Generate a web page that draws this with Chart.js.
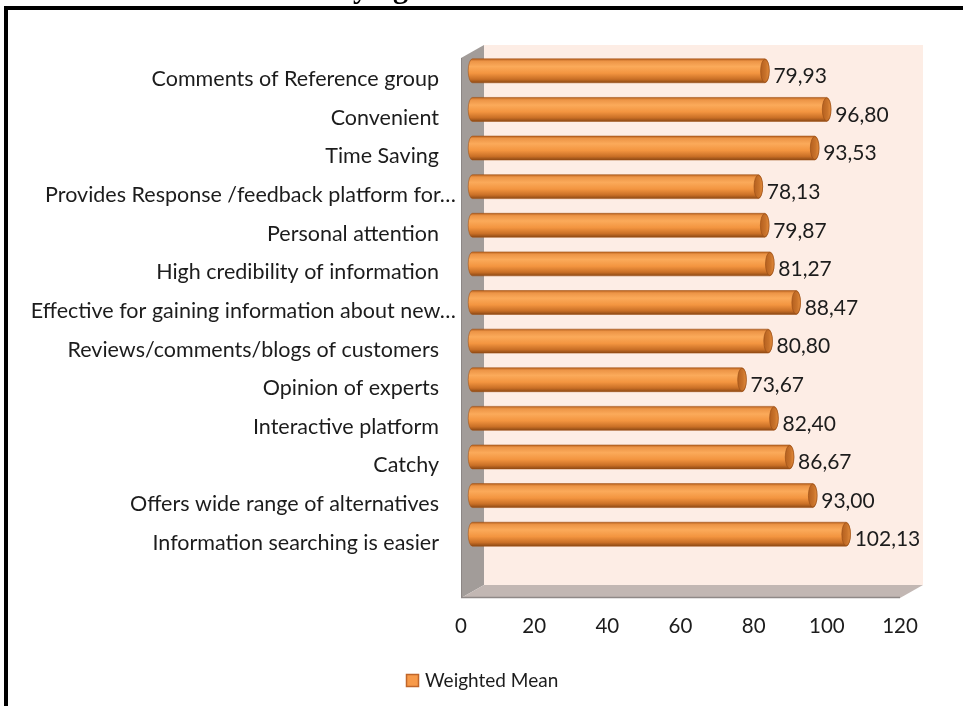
<!DOCTYPE html>
<html>
<head>
<meta charset="utf-8">
<script src="https://cdn.jsdelivr.net/npm/chart.js@4.4.0/dist/chart.umd.min.js"></script>
<style>
  body { margin: 0; background: #fff; overflow: hidden; }
  #frame { position: absolute; left: 4px; top: 6px; width: 1000px; height: 760px;
           border-top: 4px solid #000; border-left: 4px solid #000; }
  #chart { position: absolute; left: 0; top: 0; }
</style>
</head>
<body>
<div id="frame"></div>
<canvas id="chart" width="963" height="706"></canvas>
<script>
var categories = [
  'Comments of Reference group',
  'Convenient',
  'Time Saving',
  'Provides Response /feedback platform for…',
  'Personal attention',
  'High credibility of information',
  'Effective for gaining information about new…',
  'Reviews/comments/blogs of customers',
  'Opinion of experts',
  'Interactive platform',
  'Catchy',
  'Offers wide range of alternatives',
  'Information searching is easier'
];
var weightedMean = [79.93, 96.80, 93.53, 78.13, 79.87, 81.27, 88.47, 80.80, 73.67, 82.40, 86.67, 93.00, 102.13];
var xTicks = [0, 20, 40, 60, 80, 100, 120];
var seriesName = 'Weighted Mean';
var titleFragment = 'ying';

// 3d box: back wall is shifted right/up from the front plane
var DEPTH_X = 23, DEPTH_Y = -13;
var FLOOR_GAP = 38;
var TEXT = '#1c1c1c';

function fmt(v) {
  return v.toFixed(2).replace('.', ',');
}

function drawCylinder(ctx, x0, x1, yc, r) {
  var rx = r * 0.36;
  var g = ctx.createLinearGradient(0, yc - r, 0, yc + r);
  g.addColorStop(0, '#b8621f');
  g.addColorStop(0.1, '#ec9446');
  g.addColorStop(0.32, '#fbaa5a');
  g.addColorStop(0.6, '#f39540');
  g.addColorStop(0.85, '#c96f26');
  g.addColorStop(1, '#8c4915');
  ctx.beginPath();
  ctx.moveTo(x0, yc - r);
  ctx.lineTo(x1, yc - r);
  ctx.ellipse(x1, yc, rx, r, 0, -Math.PI / 2, Math.PI / 2);
  ctx.lineTo(x0, yc + r);
  ctx.ellipse(x0, yc, rx, r, 0, Math.PI / 2, Math.PI * 1.5);
  ctx.closePath();
  ctx.fillStyle = g;
  ctx.fill();
  ctx.strokeStyle = 'rgba(160,80,20,0.55)';
  ctx.lineWidth = 1;
  ctx.stroke();

  // end face
  var eg = ctx.createLinearGradient(x1 - rx, 0, x1 + rx, 0);
  eg.addColorStop(0, '#b5601f');
  eg.addColorStop(0.6, '#c9732b');
  eg.addColorStop(1, '#e48c3c');
  ctx.beginPath();
  ctx.ellipse(x1, yc, rx, r - 0.5, 0, 0, Math.PI * 2);
  ctx.fillStyle = eg;
  ctx.fill();
  ctx.strokeStyle = 'rgba(150,75,20,0.6)';
  ctx.stroke();
}

var box3d = {
  id: 'box3d',
  beforeDatasetsDraw: function (chart) {
    var ctx = chart.ctx, a = chart.chartArea;
    var L = a.left, R = a.right, T = a.top, B = a.bottom + FLOOR_GAP;
    ctx.save();
    // back wall
    ctx.fillStyle = '#fdede5';
    ctx.fillRect(L + DEPTH_X, T + DEPTH_Y, R - L, B - T);
    // left wall
    ctx.beginPath();
    ctx.moveTo(L, T);
    ctx.lineTo(L + DEPTH_X, T + DEPTH_Y);
    ctx.lineTo(L + DEPTH_X, B + DEPTH_Y);
    ctx.lineTo(L, B);
    ctx.closePath();
    ctx.fillStyle = '#a29c99';
    ctx.fill();
    ctx.strokeStyle = '#8c8684';
    ctx.lineWidth = 1;
    ctx.beginPath();
    ctx.moveTo(L + 0.5, T);
    ctx.lineTo(L + 0.5, B);
    ctx.stroke();
    // floor
    ctx.beginPath();
    ctx.moveTo(L, B);
    ctx.lineTo(L + DEPTH_X, B + DEPTH_Y);
    ctx.lineTo(R + DEPTH_X, B + DEPTH_Y);
    ctx.lineTo(R, B);
    ctx.closePath();
    ctx.fillStyle = '#c2b7b3';
    ctx.fill();
    ctx.beginPath();
    ctx.moveTo(L, B - 0.5);
    ctx.lineTo(R, B - 0.5);
    ctx.strokeStyle = '#8f8987';
    ctx.lineWidth = 1.5;
    ctx.stroke();
    ctx.restore();
  },
  afterDatasetsDraw: function (chart) {
    var ctx = chart.ctx;
    var meta = chart.getDatasetMeta(0);
    ctx.save();
    meta.data.forEach(function (bar) {
      var r = bar.height / 2;
      drawCylinder(ctx, bar.base + DEPTH_X / 2, bar.x + DEPTH_X / 2, bar.y + DEPTH_Y / 2, r);
    });
    ctx.restore();
  },
  afterDraw: function (chart) {
    var ctx = chart.ctx, a = chart.chartArea;
    var xs = chart.scales.x, ys = chart.scales.y;
    var meta = chart.getDatasetMeta(0);
    ctx.save();
    ctx.fillStyle = TEXT;

    // category labels
    ctx.font = '21.5px Lato';
    ctx.textAlign = 'right';
    ctx.textBaseline = 'middle';
    categories.forEach(function (c, i) {
      var y = ys.getPixelForValue(i) + 2;
      var x = c.slice(-1) === '…' ? a.left - 5 : a.left - 22;
      ctx.fillText(c, x, y);
    });

    // value labels
    ctx.font = '21px Lato';
    ctx.textAlign = 'left';
    meta.data.forEach(function (bar, i) {
      ctx.fillText(fmt(weightedMean[i]), bar.x + 20, bar.y - 1);
    });

    // x tick labels
    ctx.font = '20.5px Lato';
    ctx.textAlign = 'center';
    xTicks.forEach(function (t) {
      ctx.fillText(String(t), xs.getPixelForValue(t), a.bottom + FLOOR_GAP + 28);
    });

    // legend
    var ly = 681;
    ctx.fillStyle = '#f79a4a';
    ctx.fillRect(406.5, ly - 6.5, 12, 12);
    ctx.strokeStyle = '#c0662a';
    ctx.lineWidth = 1.5;
    ctx.strokeRect(406.5, ly - 6.5, 12, 12);
    ctx.fillStyle = TEXT;
    ctx.font = '19px Lato';
    ctx.textAlign = 'left';
    ctx.fillText(seriesName, 425, ly);

    // clipped title line above the frame
    ctx.font = 'bold 30px "Liberation Serif"';
    ctx.textBaseline = 'alphabetic';
    ctx.fillStyle = '#000';
    ctx.fillText(titleFragment, 353, -2);
    ctx.restore();
  }
};

new Chart(document.getElementById('chart'), {
  type: 'bar',
  data: {
    labels: categories,
    datasets: [{
      label: seriesName,
      data: weightedMean,
      backgroundColor: 'rgba(0,0,0,0)',
      borderWidth: 0,
      barPercentage: 0.62,
      categoryPercentage: 1
    }]
  },
  options: {
    indexAxis: 'y',
    responsive: false,
    animation: false,
    events: [],
    layout: { padding: { left: 461, right: 63, top: 58, bottom: 146 } },
    plugins: { legend: { display: false }, tooltip: { enabled: false } },
    scales: {
      x: { display: false, min: 0, max: 120, ticks: { stepSize: 20 } },
      y: { display: false }
    }
  },
  plugins: [box3d]
});
</script>
</body>
</html>
